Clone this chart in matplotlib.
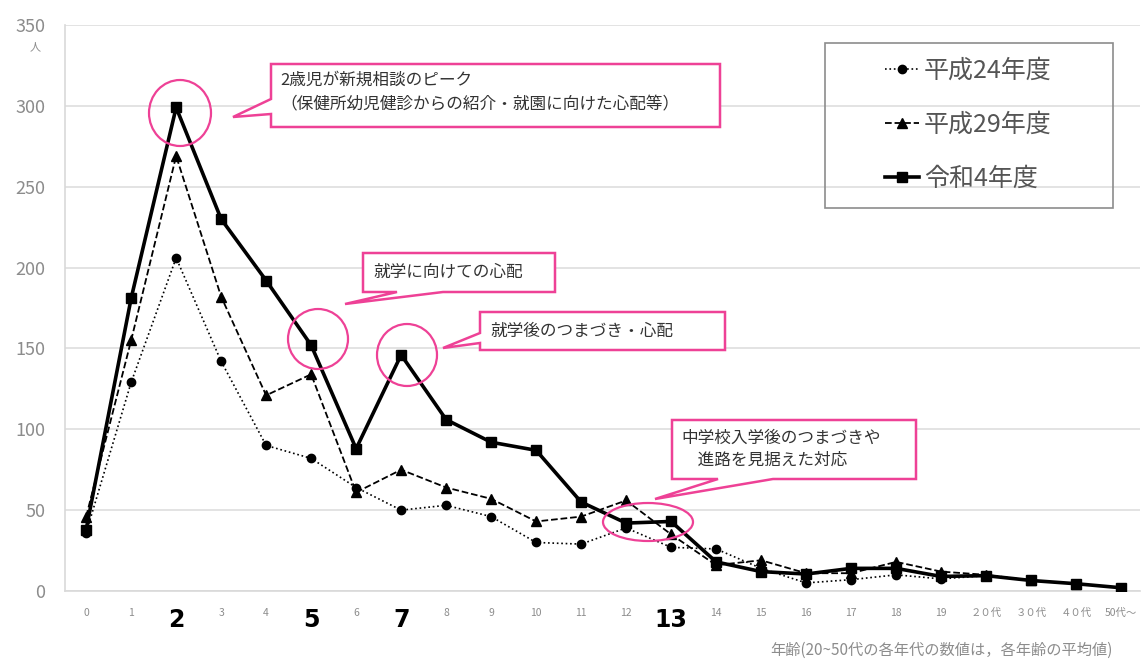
import matplotlib
matplotlib.use('Agg')
import matplotlib.pyplot as plt
from matplotlib.patches import Polygon, Ellipse, Rectangle

plt.rcParams['font.family'] = ['Noto Sans CJK JP', 'DejaVu Sans']

# カテゴリ（年齢）
ages = ['0', '1', '2', '3', '4', '5', '6', '7', '8', '9', '10', '11', '12', '13',
        '14', '15', '16', '17', '18', '19', '２０代', '３０代', '４０代', '50代～']
big_ticks = ['2', '5', '7', '13']

# 各年度の相談件数（人）
h24 = [36, 129, 206, 142, 90, 82, 64, 50, 53, 46, 30, 29, 39, 27,
       26, 14, 5, 7, 10, 7.5, 9.5, 6.5, 4.5, 2]
h29 = [46, 155, 269, 182, 121, 134, 61, 75, 64, 57, 43, 46, 56, 35,
       16, 19, 11, 11, 18, 12, 10, 6.5, 4.5, 2]
r4 = [38, 181, 299, 230, 192, 152, 88, 146, 106, 92, 87, 55, 42, 43,
      18, 12, 10.5, 14, 14, 9, 9.5, 6.5, 4.5, 2]

W, H = 1141, 662
pink = '#ee4196'
gray = '#8c8c8c'

fig = plt.figure(figsize=(W / 100, H / 100), dpi=100)
ax = fig.add_axes([65 / W, 1 - 591 / H, 1075 / W, 566 / H])

x = list(range(len(ages)))
ax.plot(x, h24, ':', color='black', lw=1.2, marker='o', ms=6, label='平成24年度', zorder=3)
ax.plot(x, h29, '--', color='black', lw=1.3, marker='^', ms=6.5, label='平成29年度', zorder=3)
ax.plot(x, r4, '-', color='black', lw=2.6, marker='s', ms=7.5, label='令和4年度', zorder=4)

ax.set_xlim(-0.47, 23.42)
ax.set_ylim(0, 350)
ax.set_yticks(range(0, 351, 50))
ax.grid(axis='y', color='#dedede', lw=1.2)
ax.set_axisbelow(True)
for s in ['top', 'right']:
    ax.spines[s].set_visible(False)
for s in ['left', 'bottom']:
    ax.spines[s].set_color('#d9d9d9')
    ax.spines[s].set_linewidth(1.2)
ax.tick_params(axis='y', length=0, pad=14, labelsize=13, labelcolor=gray)
ax.tick_params(axis='x', length=0, pad=12)
ax.set_xticks(x)
ax.set_xticklabels(ages)
for lab in ax.get_xticklabels():
    if lab.get_text() in big_ticks:
        lab.set_fontsize(17)
        lab.set_fontweight('bold')
        lab.set_color('black')
        lab.set_family(['Liberation Sans Narrow', 'DejaVu Sans'])
    else:
        lab.set_fontsize(7.5)
        lab.set_color(gray)

fig.text(35 / W, 1 - 47 / H, '人', fontsize=8, color=gray, ha='center', va='center')
fig.text(1113 / W, 1 - 650 / H, '年齢(20~50代の各年代の数値は，各年齢の平均値)',
         fontsize=11, color=gray, ha='right', va='center')

# 凡例（枠は別に描く）
leg = ax.legend(loc='upper left', bbox_to_anchor=(885 / W, 1 - 58 / H),
                bbox_transform=fig.transFigure, fontsize=18, frameon=False,
                borderpad=0, labelspacing=1.12, handlelength=1.35,
                handletextpad=0.2, borderaxespad=0)
for t in leg.get_texts():
    t.set_color('#555555')
fig.patches.append(Rectangle((825 / W, 1 - 208 / H), 288 / W, 165 / H,
                             transform=fig.transFigure, facecolor='none',
                             edgecolor='#8c8c8c', lw=1.2, zorder=6))


def px(p):
    return (p[0] / W, 1 - p[1] / H)


def callout(pts):
    poly = Polygon([px(p) for p in pts], closed=True, transform=fig.transFigure,
                   facecolor='white', edgecolor=pink, lw=1.8, zorder=6)
    fig.patches.append(poly)


def ring(cx, cy, w, h):
    e = Ellipse(px((cx, cy)), w / W, h / H, transform=fig.transFigure,
                facecolor='none', edgecolor=pink, lw=1.6, zorder=7)
    fig.patches.append(e)


# 吹き出し
callout([(271, 64), (720, 64), (720, 127), (271, 127), (271, 114), (233, 117), (271, 99)])
callout([(363, 253), (555, 253), (555, 292), (443, 292), (345, 304), (397, 292), (363, 292)])
callout([(480, 312), (725, 312), (725, 350), (480, 350), (480, 343), (443, 348), (480, 333)])
callout([(672, 420), (916, 420), (916, 479), (773, 479), (655, 499), (718, 479), (672, 479)])

txt = dict(fontsize=12, color='#333333', va='center', ha='left', zorder=8)
fig.text(280 / W, 1 - 80 / H, '2歳児が新規相談のピーク', **txt)
fig.text(280 / W, 1 - 105 / H, '（保健所幼児健診からの紹介・就園に向けた心配等）', **txt)
fig.text(373 / W, 1 - 272 / H, '就学に向けての心配', **txt)
fig.text(490 / W, 1 - 331 / H, '就学後のつまづき・心配', **txt)
fig.text(681 / W, 1 - 438 / H, '中学校入学後のつまづきや', **txt)
fig.text(681 / W, 1 - 460 / H, '　進路を見据えた対応', **txt)

# 丸囲み
ring(180, 113, 62, 66)
ring(318, 339, 60, 60)
ring(407, 355, 60, 62)
ring(648, 522, 90, 38)

fig.savefig('out.png', dpi=100)
